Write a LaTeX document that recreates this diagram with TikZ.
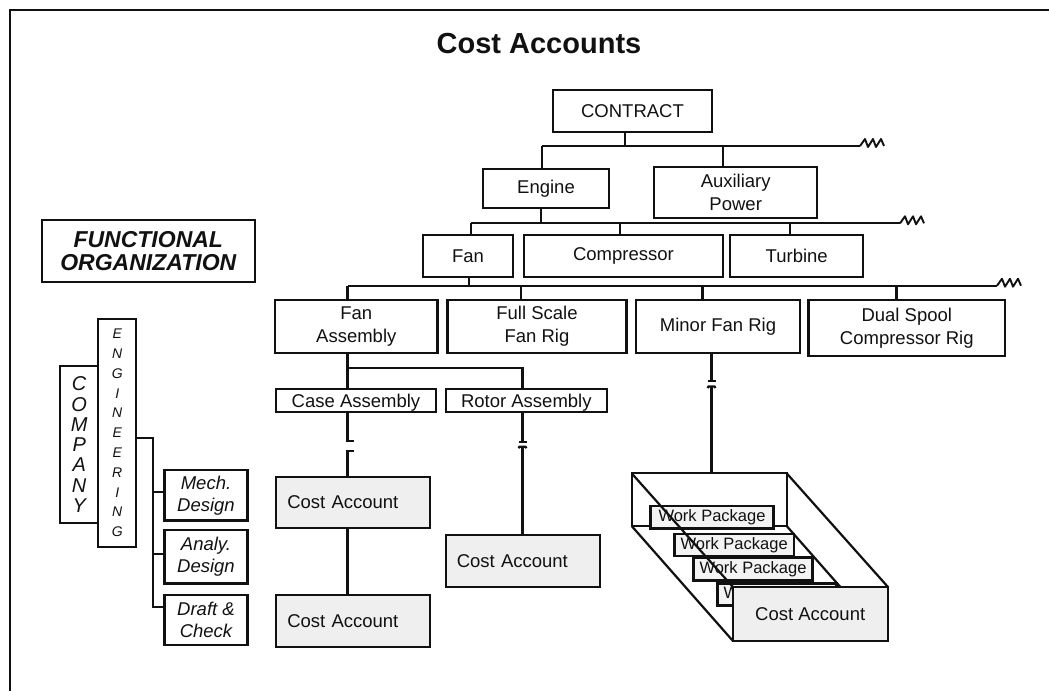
\documentclass[tikz,border=0pt]{standalone}
\usepackage{fontspec}
\setmainfont{Liberation Sans}
\newcommand\setfs[2]{\fontsize{#1}{#2}\selectfont}
\definecolor{ink}{HTML}{111111}
\definecolor{cafill}{HTML}{EFEFEF}
\definecolor{wpfill}{HTML}{F3F3F3}
\begin{document}
\begin{tikzpicture}[x=1pt,y=-1pt,
  every node/.style={outer sep=0pt,text=ink},
  box/.style={draw=ink,line width=2.2pt,inner sep=0pt,align=center,font=\setfs{18.5}{23}},
  cabox/.style={box,fill=cafill,align=left,text width=132pt,inner xsep=11pt},
  wpbox/.style={box,fill=wpfill,line width=2.6pt,font=\setfs{16.5}{19}},
  fnbox/.style={box,line width=2.6pt,font=\itshape\setfs{18.5}{22}},
  link/.style={draw=ink,line width=2.2pt},
  zig/.style={insert path={-- ++(5,-7) -- ++(3,8) -- ++(5,-8) -- ++(3,8) -- ++(5,-8) -- ++(3,7)}},
  zigline/.style={draw=ink,line width=1.9pt,line join=round},
]
\useasboundingbox (0,0) rectangle (1049,691);

% page frame
\draw[ink,line width=1.8pt] (1049,10) -- (10,10) -- (10,691);

% heading
\node[font=\bfseries\setfs{29}{32},anchor=base] (title) at (539,53.3) {Cost Accounts};

% ---------- work breakdown structure ----------
\node[box,minimum width=159pt,minimum height=42pt] (contract) at (632.5,111) {CONTRACT};

\node[box,minimum width=126pt,minimum height=39pt] (engine) at (546,188.5) {Engine};
\node[box,minimum width=163pt,minimum height=51pt] (aux) at (735.7,192.7) {Auxiliary\\Power};

\node[box,minimum width=90.6pt,minimum height=41.7pt] (fan) at (468,256) {Fan};
\node[box,minimum width=198.7pt,minimum height=41.7pt] (comp) at (623.4,256) {Compressor};
\node[box,minimum width=133.3pt,minimum height=41.7pt] (turb) at (796.7,256) {Turbine};

\node[box,minimum width=162.5pt,minimum height=53pt] (fanasm) at (356.3,326.5) {Fan\\Assembly};
\node[box,minimum width=179pt,minimum height=53pt] (fullscale) at (537,326.5) {Full Scale\\Fan Rig};
\node[box,minimum width=164pt,minimum height=53pt] (minor) at (718,326.5) {Minor Fan Rig};
\node[box,minimum width=196.5pt,minimum height=56pt] (dual) at (906.8,328) {Dual Spool\\Compressor Rig};

\node[box,minimum width=160pt,minimum height=22.7pt,text depth=0pt] (caseasm) at (356,400.4) {Case Assembly};
\node[box,minimum width=160.7pt,minimum height=22.7pt,text depth=0pt] (rotorasm) at (526.3,400.4) {Rotor Assembly};

\node[cabox,minimum height=51.6pt] (ca1) at (353.3,502.5) {Cost Account};
\node[cabox,minimum height=52.3pt] (ca2) at (522.8,561.2) {Cost Account};
\node[cabox,minimum height=52.3pt] (ca3) at (353.3,621.2) {Cost Account};

% tier 1 bus
\coordinate (t1) at (625.3,146);
\coordinate (t1a) at (541.7,146);
\coordinate (t1b) at (723.3,146);
\coordinate (t1z) at (860,146);
\draw[link] (t1 |- contract.south) -- (t1);
\draw[link] (t1a) -- (t1z);
\draw[zigline] (t1z) [zig];
\draw[link] (t1a) -- (t1a |- engine.north);
\draw[link] (t1b) -- (t1b |- aux.north);

% tier 2 bus
\coordinate (t2) at (540.7,223.3);
\coordinate (t2a) at (471,223.3);
\coordinate (t2b) at (620,223.3);
\coordinate (t2c) at (790,223.3);
\coordinate (t2z) at (900,223.3);
\draw[link] (t2 |- engine.south) -- (t2);
\draw[link] (t2a) -- (t2z);
\draw[zigline] (t2z) [zig];
\draw[link] (t2a) -- (t2a |- fan.north);
\draw[link] (t2b) -- (t2b |- comp.north);
\draw[link] (t2c) -- (t2c |- turb.north);

% tier 3 bus
\coordinate (t3) at (469,285.7);
\coordinate (t3a) at (347.5,285.7);
\coordinate (t3b) at (521,285.7);
\coordinate (t3c) at (702.5,285.7);
\coordinate (t3d) at (896.5,285.7);
\coordinate (t3z) at (997,285.7);
\draw[link] (t3 |- fan.south) -- (t3);
\draw[link] (t3a) -- (t3z);
\draw[zigline] (t3z) [zig];
\draw[link] (t3a) -- (t3a |- fanasm.north);
\draw[link] (t3b) -- (t3b |- fullscale.north);
\draw[link] (t3c) -- (t3c |- minor.north);
\draw[link] (t3d) -- (t3d |- dual.north);

% fan assembly split
\coordinate (t4a) at (347.5,368.3);
\coordinate (t4b) at (522.5,368.3);
\draw[link] (t4a |- fanasm.south) -- (t4a |- caseasm.north);
\draw[link] (t4a) -- (t4b) -- (t4b |- rotorasm.north);

% case assembly to cost accounts (broken line)
\draw[link] (t4a |- caseasm.south) -- ++(0,29) -- ++(6.5,0);
\draw[link] (t4a |- ca1.north) -- ++(0,-25.5) -- ++(6.5,0);
\draw[link] (t4a |- ca1.south) -- (t4a |- ca3.north);

% rotor assembly to cost account (broken line)
\coordinate (rk1) at (522.5,441.7);
\coordinate (rk2) at (522.5,446.7);
\draw[link] (t4b |- rotorasm.south) -- (rk1);
\draw[link] ([xshift=-4pt]rk1) -- ([xshift=4pt]rk1);
\draw[link] ([xshift=-4pt,yshift=-1.5pt]rk2) -- ([xshift=-3pt]rk2) -- ([xshift=3pt]rk2) -- ([xshift=4pt,yshift=-1.5pt]rk2);
\draw[link] (rk2) -- (rk2 |- ca2.north);

% ---------- work package stack ----------
\node[draw=ink,line width=2.2pt,inner sep=0pt,minimum width=155pt,minimum height=52.7pt] (wpback) at (709.2,499.7) {};

\coordinate (mk1) at (711.5,381);
\coordinate (mk2) at (711.5,386.5);
\draw[link] (mk1 |- minor.south) -- (mk1);
\draw[link] ([xshift=-4pt]mk1) -- ([xshift=4pt]mk1);
\draw[link] ([xshift=-4pt,yshift=-1.5pt]mk2) -- ([xshift=-3pt]mk2) -- ([xshift=3pt]mk2) -- ([xshift=4pt,yshift=-1.5pt]mk2);
\draw[link] (mk2) -- (mk2 |- wpback.north);

\coordinate (pnw) at (732.7,586.7);
\coordinate (pne) at (887.7,586.7);
\coordinate (psw) at (732.7,640.7);
\coordinate (pse) at (887.7,640.7);
\draw[link] (wpback.north east) -- (pne);
\draw[link] (wpback.south west) -- (psw);
\draw[link] (wpback.south east) -- (pse);

\node[wpbox,minimum width=122.6pt,minimum height=22.3pt] (wp1) at (712,517.2) {Work Package};
\node[wpbox,minimum width=119.7pt,minimum height=22pt] (wp2) at (734.2,545) {Work Package};
\node[wpbox,minimum width=119.4pt,minimum height=23.4pt] (wp3) at (753,569) {Work Package};
\node[wpbox,minimum width=119.4pt,minimum height=22.4pt] (wp4) at (777,594.5) {Work Package};

\draw[link] (wpback.north west) -- (pnw);

\node[box,fill=cafill,minimum width=155pt,minimum height=54pt] (wpca) at (810.2,613.7) {Cost Account};

% ---------- functional organization ----------
\node[box,line width=2.2pt,minimum width=213.3pt,minimum height=61.7pt,font=\bfseries\itshape\setfs{23}{23.3}] (funcorg) at (148.3,250.8) {FUNCTIONAL\\ORGANIZATION};

\node[box,line width=2pt,minimum width=38.3pt,minimum height=157.3pt,font=\itshape\setfs{20}{20.3}] (company) at (79.2,444.7) {C\\O\\M\\P\\A\\N\\Y};
\node[box,line width=2pt,minimum width=37.7pt,minimum height=227.7pt,font=\itshape\setfs{14}{19.8}] (engg) at (117.2,433) {E\\N\\G\\I\\N\\E\\E\\R\\I\\N\\G};

\node[fnbox,minimum width=83.4pt,minimum height=50.7pt] (mech) at (206,495.3) {Mech.\\Design};
\node[fnbox,minimum width=83.4pt,minimum height=53.3pt] (analy) at (206,556.7) {Analy.\\Design};
\node[fnbox,minimum width=83.4pt,minimum height=50pt] (draft) at (206,620) {Draft \&\\Check};

\coordinate (sp1) at (152.7,437.7);
\coordinate (sp2) at (152.7,491.7);
\coordinate (sp3) at (152.7,554.3);
\coordinate (sp4) at (152.7,606.7);
\draw[link] (sp1 -| engg.east) -- (sp1) -- (sp4) -- (sp4 -| draft.west);
\draw[link] (sp2) -- (sp2 -| mech.west);
\draw[link] (sp3) -- (sp3 -| analy.west);
\end{tikzpicture}
\end{document}
